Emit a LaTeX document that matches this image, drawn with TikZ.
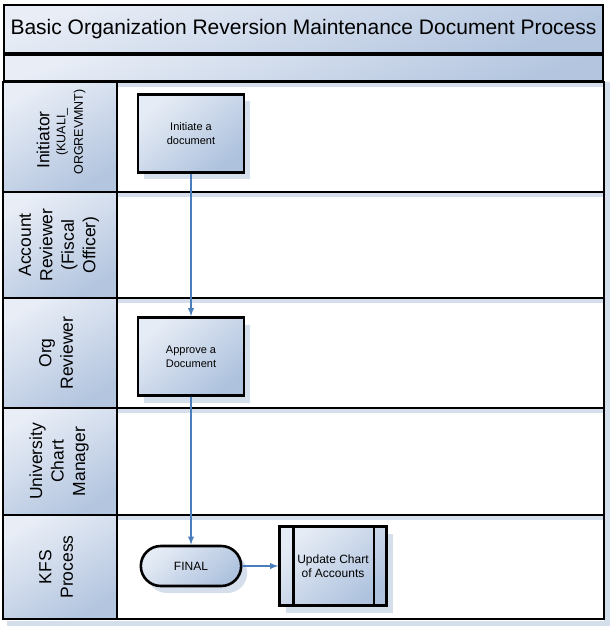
\documentclass[tikz,border=0pt]{standalone}
\usepackage{fontspec}
\setmainfont{Liberation Sans}
\usetikzlibrary{arrows,shadows,shapes.misc}
\definecolor{headtop}{HTML}{E8EDF6}
\definecolor{headbot}{HTML}{B3C5DF}
\definecolor{boxtop}{HTML}{E6ECF5}
\definecolor{boxbot}{HTML}{AEC2DE}
\definecolor{flowblue}{HTML}{4A7EBB}
\definecolor{shadeblue}{HTML}{D5DEEB}

\begin{document}
\begin{tikzpicture}[x=1pt,y=-1pt,
    band/.style={draw,line width=2.6pt,top color=headtop,bottom color=headbot,shading angle=20},
    lanehead/.style={draw,line width=2.6pt,top color=headtop,bottom color=headbot,shading angle=30},
    lanelabel/.style={rotate=90,align=center,font=\fontsize{17.5}{21.5}\selectfont},
    lanesub/.style={rotate=90,align=center,font=\fontsize{12.5}{17.5}\selectfont},
    task/.style={draw,line width=2.6pt,top color=boxtop,bottom color=boxbot,shading angle=40,
        drop shadow={shadow xshift=6pt,shadow yshift=-7pt,fill=shadeblue,opacity=1},
        minimum width=106pt,minimum height=78pt,align=center},
    flow/.style={-latex,flowblue,line width=1.8pt}]
\useasboundingbox (0,0) rectangle (612,628);
% header bands
\node[band,minimum width=599pt,minimum height=48pt,font=\fontsize{21}{24}\selectfont] (title) at (303.5,29) {Basic Organization Reversion Maintenance Document Process};
\node[band,minimum width=599pt,minimum height=26pt] (band) at (303.5,68) {};
% lanes
\foreach \ya/\yb in {82/192,192/298,298/408,408/515,515/619}
{
  \fill[shadeblue] (117,\ya) rectangle (610,\ya+5);
  \fill[shadeblue] (604,\ya+5) rectangle (610,\yb+4);
  \draw[line width=2.6pt] (117,\ya) rectangle (604,\yb);
  \draw[lanehead] (3,\ya) rectangle (117,\yb);
}
\fill[shadeblue] (7,621) rectangle (610,626);
\node[lanelabel] (ini) at (43,140) {Initiator};
\node[lanesub] (inisub) at (71,132) {(KUALI\_\\ORGREVMNT)};
\node[lanelabel] (acc) at (59,245) {Account\\Reviewer\\(Fiscal\\Officer)};
\node[lanelabel] (org) at (56,353) {Org\\Reviewer};
\node[lanelabel] (ucm) at (59,461.5) {University\\Chart\\Manager};
\node[lanelabel] (kfs) at (56,567) {KFS\\Process};
% steps
\node[task,font=\fontsize{11}{14}\selectfont] (initiate) at (191,133.5) {Initiate a\\document};
\node[task,font=\fontsize{11}{14}\selectfont] (approve) at (191,356.5) {Approve a\\Document};
\node[task,rounded rectangle,minimum width=107pt,minimum height=40pt,font=\fontsize{12}{14}\selectfont] (final) at (191,566) {FINAL};
\node[task,minimum width=107pt,minimum height=79pt,font=\fontsize{12}{14.5}\selectfont] (update) at (333,566) {Update Chart\\of Accounts};
\draw[line width=2.6pt] ([xshift=15pt]update.north west) -- ([xshift=15pt]update.south west);
\draw[line width=2.6pt] ([xshift=-14pt]update.north east) -- ([xshift=-14pt]update.south east);
% connectors
\draw[flow] (initiate) -- (approve);
\draw[flow] (approve) -- (final);
\draw[flow] (final) -- (update);
\end{tikzpicture}
\end{document}
